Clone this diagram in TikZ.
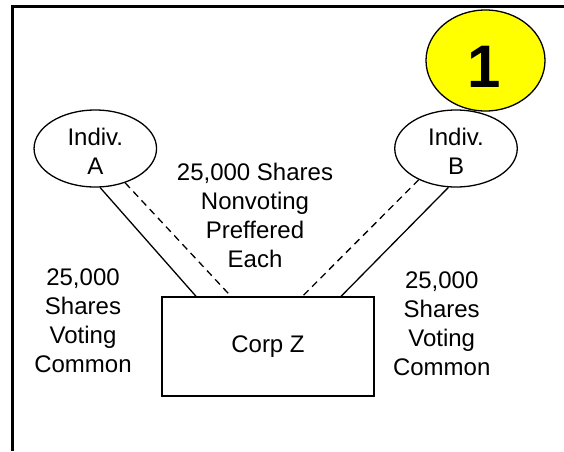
\documentclass[tikz,border=0pt]{standalone}
\usepackage{fontspec}
\setmainfont{Liberation Sans}
\usetikzlibrary{shapes.geometric}
\tikzset{
  indiv/.style={ellipse, draw, line width=1.3pt, minimum width=122.5pt, minimum height=77pt, inner sep=0pt},
  lbl/.style={align=center, inner sep=0pt, font=\fontsize{24}{29}\selectfont},
  corpbox/.style={rectangle, draw, line width=1.3pt, minimum width=212pt, minimum height=99pt, inner sep=0pt, font=\fontsize{24}{29}\selectfont},
  badge/.style={ellipse, draw, line width=1.3pt, fill={rgb,255:red,255;green,255;blue,0}, minimum width=119pt, minimum height=101pt, inner sep=0pt},
  solidlink/.style={line width=1.3pt},
  dashlink/.style={line width=1.3pt, dash pattern=on 7pt off 5pt},
}
\begin{document}
\begin{tikzpicture}[x=1pt, y=-1pt]
\useasboundingbox (0,0) rectangle (564,451);
% frame
\draw[line width=3.5pt, line join=miter] (12.5,451) -- (12.5,6.5) -- (564,6.5);
% nodes
\node[indiv] (A) at (95.3,148.5) {};
\node[indiv] (B) at (456,148.5) {};
\node[lbl] (Atext) at (95.3,151.5) {Indiv.\\A};
\node[lbl] (Btext) at (456,151.5) {Indiv.\\B};
\node[corpbox] (Z) at (268,346.5) {Corp Z};
\node[badge] (badge) at (485.5,60.5) {};
\node[inner sep=0pt, font=\fontsize{60}{60}\selectfont\bfseries] (one) at (484,66.5) {1};
% labels
\node[lbl] (pref) at (255,215) {25,000 Shares\\Nonvoting\\Preffered\\Each};
\node[lbl] (lcommon) at (83,321) {25,000\\Shares\\Voting\\Common};
\node[lbl] (rcommon) at (441.7,323.5) {25,000\\Shares\\Voting\\Common};
% connectors
\draw[solidlink] (A.-83) -- ([xshift=34.7pt]Z.north west);
\draw[dashlink] (A.-49) -- ([xshift=69.7pt]Z.north west);
\draw[dashlink] (B.-140) -- ([xshift=141pt]Z.north west);
\draw[solidlink] (B.-101.5) -- ([xshift=179.7pt]Z.north west);
\end{tikzpicture}
\end{document}
